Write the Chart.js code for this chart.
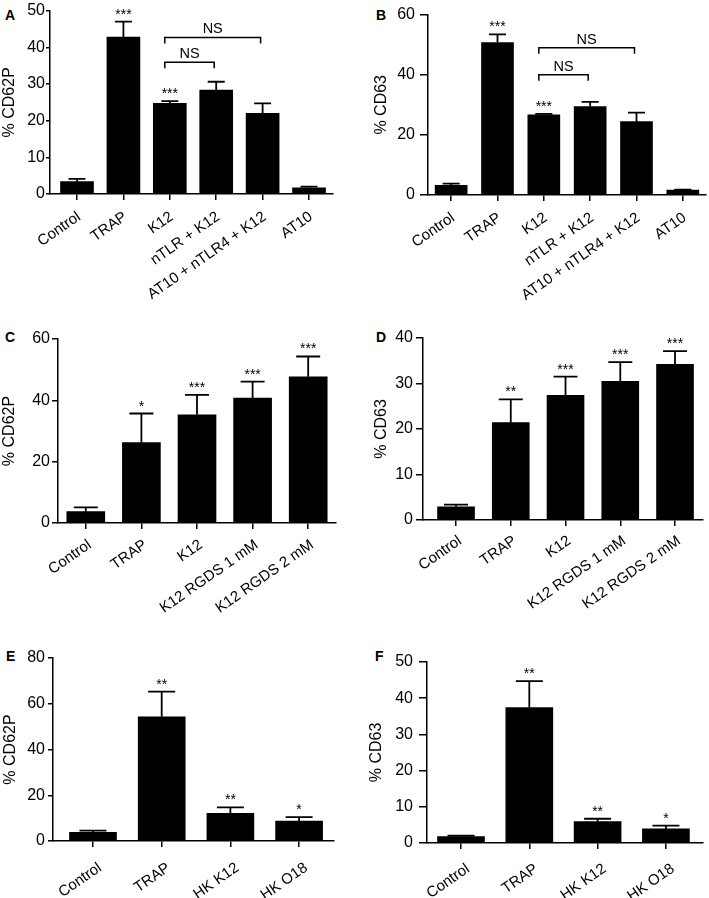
<!DOCTYPE html>
<html><head><meta charset="utf-8">
<script src="https://cdn.jsdelivr.net/npm/chart.js@4/dist/chart.umd.min.js"></script>
<style>
html,body{margin:0;padding:0;background:#fff;}
body{width:709px;height:898px;position:relative;overflow:hidden;font-family:'Liberation Sans',Arial,sans-serif;}
canvas{position:absolute;}
.letter{position:absolute;font-weight:bold;font-size:14px;line-height:14px;color:#000;font-family:'Liberation Sans',Arial,sans-serif;}
</style></head><body>
<div class="letter" style="left:5px;top:8px">A</div>
<div class="letter" style="left:376px;top:8px">B</div>
<div class="letter" style="left:5px;top:330px">C</div>
<div class="letter" style="left:376px;top:330px">D</div>
<div class="letter" style="left:6px;top:649px">E</div>
<div class="letter" style="left:375px;top:649px">F</div>
<canvas id="cA"></canvas><canvas id="cB"></canvas>
<canvas id="cC"></canvas><canvas id="cD"></canvas>
<canvas id="cE"></canvas><canvas id="cF"></canvas>
<script>
// ---------- DATA ----------
// Panel A (% CD62P)
const catsA = ['Control','TRAP','K12','nTLR + K12','AT10 + nTLR4 + K12','AT10'];
const valsA = [3.4, 42.8, 24.7, 28.3, 22.0, 1.7];
const errsA = [0.7, 4.2, 0.6, 2.3, 2.7, 0.3];
const starsA = ['', '***', '***', '', '', ''];
const ticksA = [0, 10, 20, 30, 40, 50];
const nsA = [{from: 2, to: 3, y: 35.9, text: 'NS'}, {from: 2, to: 4, y: 42.7, text: 'NS'}];

// Panel B (% CD63)
const catsB = ['Control','TRAP','K12','nTLR + K12','AT10 + nTLR4 + K12','AT10'];
const valsB = [3.2, 50.7, 26.7, 29.4, 24.4, 1.6];
const errsB = [0.6, 2.7, 0.3, 1.6, 3.0, 0.2];
const starsB = ['', '***', '***', '', '', ''];
const ticksB = [0, 20, 40, 60];
const nsB = [{from: 2, to: 3, y: 40.0, text: 'NS'}, {from: 2, to: 4, y: 49.0, text: 'NS'}];

// Panel C (% CD62P)
const catsC = ['Control','TRAP','K12','K12 RGDS 1 mM','K12 RGDS 2 mM'];
const valsC = [3.7, 26.2, 35.3, 40.7, 47.7];
const errsC = [1.4, 9.5, 6.5, 5.4, 6.6];
const starsC = ['', '*', '***', '***', '***'];
const ticksC = [0, 20, 40, 60];

// Panel D (% CD63)
const catsD = ['Control','TRAP','K12','K12 RGDS 1 mM','K12 RGDS 2 mM'];
const valsD = [2.9, 21.4, 27.4, 30.5, 34.2];
const errsD = [0.5, 5.1, 4.1, 4.2, 2.9];
const starsD = ['', '**', '***', '***', '***'];
const ticksD = [0, 10, 20, 30, 40];

// Panel E (% CD62P)
const catsE = ['Control','TRAP','HK K12','HK O18'];
const valsE = [3.8, 54.3, 12.1, 8.7];
const errsE = [0.7, 11.0, 2.6, 1.7];
const starsE = ['', '**', '**', '*'];
const ticksE = [0, 20, 40, 60, 80];

// Panel F (% CD63)
const catsF = ['Control','TRAP','HK K12','HK O18'];
const valsF = [1.8, 37.4, 5.9, 3.9];
const errsF = [0.2, 7.3, 0.8, 0.9];
const starsF = ['', '**', '**', '*'];
const ticksF = [0, 10, 20, 30, 40, 50];

// ---------- DRAWING ----------
const FONT = "'Liberation Sans', Arial, Helvetica, sans-serif";

const annotPlugin = {
  id: 'annot',
  afterDatasetsDraw(chart, args, o) {
    const ctx = chart.ctx;
    const meta = chart.getDatasetMeta(0);
    const ys = chart.scales.y;
    ctx.save();
    ctx.strokeStyle = '#000';
    ctx.fillStyle = '#000';
    ctx.lineWidth = 1.8;
    o.vals.forEach((v, i) => {
      const bar = meta.data[i];
      const cx = bar.x;
      const y0 = ys.getPixelForValue(v);
      const y1 = ys.getPixelForValue(v + o.errs[i]);
      ctx.beginPath();
      ctx.moveTo(cx, y0); ctx.lineTo(cx, y1);
      ctx.moveTo(cx - o.cap / 2, y1); ctx.lineTo(cx + o.cap / 2, y1);
      ctx.stroke();
      if (o.stars[i]) {
        ctx.font = '14px ' + FONT;
        ctx.textAlign = 'center';
        ctx.textBaseline = 'alphabetic';
        ctx.fillText(o.stars[i], cx, y1 - 3);
      }
    });
    (o.brackets || []).forEach(b => {
      const x1 = meta.data[b.from].x - 5;
      const x2 = meta.data[b.to].x - 2;
      const yy = ys.getPixelForValue(b.y);
      ctx.lineWidth = 1.5;
      ctx.beginPath();
      ctx.moveTo(x1, yy + 6); ctx.lineTo(x1, yy); ctx.lineTo(x2, yy); ctx.lineTo(x2, yy + 6);
      ctx.stroke();
      ctx.font = '14.5px ' + FONT;
      ctx.textAlign = 'center';
      ctx.textBaseline = 'alphabetic';
      ctx.fillText(b.text, (x1 + x2) / 2, yy - 4);
    });
    ctx.restore();
  }
};

function panel(id, p) {
  const cv = document.getElementById(id);
  cv.width = p.w; cv.height = p.h;
  cv.style.left = p.left + 'px'; cv.style.top = p.top + 'px';
  cv.style.width = p.w + 'px'; cv.style.height = p.h + 'px';
  new Chart(cv.getContext('2d'), {
    type: 'bar',
    data: {
      datasets: [{
        data: p.vals.map((v, i) => ({x: i, y: v})),
        backgroundColor: '#000',
        borderWidth: 0,
        barThickness: p.bw
      }]
    },
    options: {
      responsive: false,
      animation: false,
      devicePixelRatio: 1,
      layout: {padding: {top: p.pt, right: p.pr, left: 0, bottom: 0}},
      plugins: {
        legend: {display: false},
        tooltip: {enabled: false},
        annot: {vals: p.vals, errs: p.errs, stars: p.stars, brackets: p.brackets, cap: p.cap}
      },
      scales: {
        x: {
          type: 'linear',
          min: p.xmin, max: p.xmax,
          offset: false,
          afterBuildTicks: s => { s.ticks = p.cats.map((_, i) => ({value: i})); },
          afterFit: s => { s.height = p.xh; },
          grid: {drawOnChartArea: false, drawTicks: true, tickLength: 6, color: '#000', lineWidth: 1.5, offset: false},
          border: {display: true, color: '#000', width: 1.5},
          ticks: {
            autoSkip: false,
            maxRotation: p.rot, minRotation: p.rot,
            color: '#000',
            padding: p.lp,
            labelOffset: p.lo,
            font: {family: FONT, size: 15},
            callback: v => p.cats[v]
          }
        },
        y: {
          type: 'linear',
          min: 0, max: p.ticks[p.ticks.length - 1],
          afterBuildTicks: s => { s.ticks = p.ticks.map(t => ({value: t})); },
          afterFit: s => { s.width = p.yw; },
          grid: {drawOnChartArea: false, drawTicks: true, tickLength: p.tl, color: '#000', lineWidth: 1.5},
          border: {display: true, color: '#000', width: 1.5},
          ticks: {color: '#000', padding: p.tp, font: {family: FONT, size: 16}},
          title: {display: true, text: p.title, color: '#000', font: {family: FONT, size: 16}, padding: {top: p.ttp, bottom: 0}}
        }
      }
    },
    plugins: [annotPlugin]
  });
}

panel('cA', {left: 0, top: 0, w: 345, h: 310, pt: 9, pr: 12, yw: 50, xh: 116, xmin: -0.582, xmax: 5.517, bw: 33, cap: 17, rot: 35,
  tl: 4, tp: 1, ttp: 0, lp: 8, lo: 2,
  cats: catsA, vals: valsA, errs: errsA, stars: starsA, ticks: ticksA, brackets: nsA, title: '% CD62P'});
panel('cB', {left: 360, top: 0, w: 349, h: 310, pt: 9, pr: 3, yw: 68, xh: 115, xmin: -0.5, xmax: 5.5, bw: 32, cap: 17, rot: 35,
  tl: 8, tp: 5, ttp: 12, lp: 8, lo: 2,
  cats: catsB, vals: valsB, errs: errsB, stars: starsB, ticks: ticksB, brackets: nsB, title: '% CD63'});
panel('cC', {left: 0, top: 300, w: 345, h: 320, pt: 39, pr: 9, yw: 58, xh: 97, xmin: -0.5, xmax: 4.5, bw: 38, cap: 24, rot: 35,
  tl: 6, tp: 2, ttp: 0, lp: 7, lo: 4,
  cats: catsC, vals: valsC, errs: errsC, stars: starsC, ticks: ticksC, brackets: [], title: '% CD62P'});
panel('cD', {left: 360, top: 300, w: 349, h: 320, pt: 38, pr: 6, yw: 63, xh: 100, xmin: -0.603, xmax: 4.511, bw: 37, cap: 24, rot: 35,
  tl: 7, tp: 3, ttp: 12, lp: 6, lo: 4,
  cats: catsD, vals: valsD, errs: errsD, stars: starsD, ticks: ticksD, brackets: [], title: '% CD63'});
panel('cE', {left: 0, top: 610, w: 345, h: 288, pt: 48, pr: 11, yw: 53, xh: 57, xmin: -0.582, xmax: 3.508, bw: 47, cap: 27, rot: 35,
  tl: 5, tp: 3, ttp: 1, lp: 12, lo: 7,
  cats: catsE, vals: valsE, errs: errsE, stars: starsE, ticks: ticksE, brackets: [], title: '% CD62P'});
panel('cF', {left: 360, top: 610, w: 349, h: 288, pt: 52, pr: 6, yw: 67, xh: 55, xmin: -0.498, xmax: 3.543, bw: 47, cap: 27, rot: 35,
  tl: 8, tp: 6, ttp: 7, lp: 11, lo: 7,
  cats: catsF, vals: valsF, errs: errsF, stars: starsF, ticks: ticksF, brackets: [], title: '% CD63'});
</script>
</body></html>
